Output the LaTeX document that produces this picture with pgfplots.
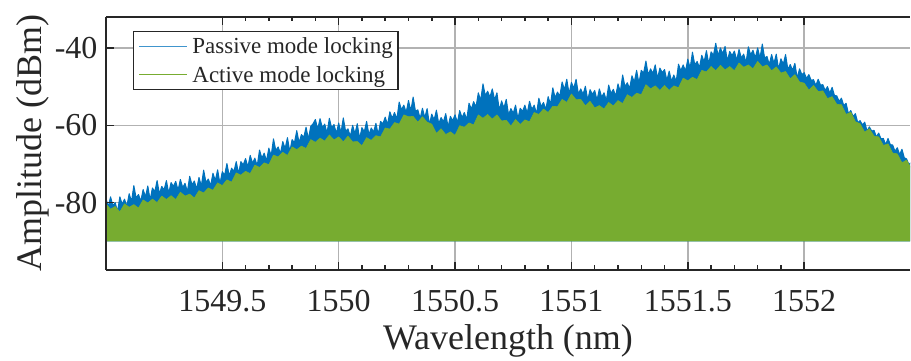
\documentclass[border=0pt]{standalone}
\usepackage{fontspec}
\setmainfont{Liberation Serif}
\usepackage{pgfplots}
\pgfplotsset{compat=1.18}
\definecolor{mblue}{RGB}{0,114,189}
\definecolor{mgreen}{RGB}{119,172,48}
\definecolor{axc}{RGB}{38,38,38}
\pgfplotsset{
  layers/mylayers/.define layer set={axis background,axis grid,main,axis ticks,axis lines,axis tick labels,axis descriptions,axis foreground}{
    grid style={/pgfplots/on layer=axis grid},
    tick style={/pgfplots/on layer=axis ticks},
    axis line style={/pgfplots/on layer=axis lines},
    label style={/pgfplots/on layer=axis descriptions},
    legend style={/pgfplots/on layer=axis descriptions},
    title style={/pgfplots/on layer=axis descriptions},
    colorbar style={/pgfplots/on layer=axis descriptions},
    ticklabel style={/pgfplots/on layer=axis tick labels},
    axis background@ style={/pgfplots/on layer=axis background},
    3d box foreground style={/pgfplots/on layer=axis foreground},
  },
}
\begin{document}
\begin{tikzpicture}
\begin{axis}[
  set layers=mylayers,
  at={(0pt,0pt)}, anchor=south west,
  scale only axis, width=805pt, height=253pt,
  xmin=1549.0, xmax=1552.455, ymin=-97.35, ymax=-32.0,
  axis x line*=box, axis y line*=left,
  axis line style={-, line width=1.8pt, draw=axc},
  xtick={1549.5,1550,1550.5,1551,1551.5,1552},
  xticklabels={1549.5,1550,1550.5,1551,1551.5,1552},
  ytick={-80,-60,-40}, yticklabels={-80,-60,-40},
  minor x tick num=4,
  tick align=inside,
  major tick length=8pt, minor tick length=4.5pt,
  tick style={line width=1.5pt, draw=axc},
  grid=major,
  major grid style={line width=1.5pt, draw=black!30},
  ticklabel style={font=\fontsize{32}{37}\selectfont, text=axc},
  xticklabel style={yshift=-17pt},
  yticklabel style={xshift=-5pt},
  xlabel={Wavelength (nm)}, ylabel={Amplitude (dBm)},
  label style={font=\fontsize{36}{42}\selectfont, text=axc},
  xlabel style={at={(axis description cs:0.5,-0.316)}, anchor=base},
  ylabel style={at={(axis description cs:-0.0795,0.5)}, anchor=base},
  legend cell align=left,
  legend style={at={(axis description cs:0.0335,0.9447)}, anchor=north west,
    draw=axc, line width=1.5pt, fill=white, font=\fontsize{23}{27}\selectfont,
    inner xsep=5pt, inner ysep=6pt, row sep=11pt, nodes={inner sep=0pt, text=axc},
    /tikz/every odd column/.append style={column sep=5pt}},
  legend image code/.code={\draw[#1, line width=0.9pt] (0pt,0pt) -- (48pt,0pt);},
]
\addplot[forget plot, fill=mblue, draw=mblue, line width=1pt, line join=round] coordinates {
(1549.00,-90)
(1549.00,-78.7)(1549.01,-81.2)(1549.02,-78.5)(1549.03,-80.8)(1549.04,-80.0)(1549.05,-82.3)(1549.06,-78.5)(1549.07,-80.4)(1549.08,-79.1)(1549.09,-80.9)
(1549.10,-77.7)(1549.11,-79.7)(1549.12,-75.6)(1549.13,-78.8)(1549.14,-77.9)(1549.15,-79.6)(1549.16,-76.6)(1549.17,-78.5)(1549.18,-75.7)(1549.19,-79.3)
(1549.20,-76.2)(1549.21,-77.2)(1549.22,-74.3)(1549.23,-77.7)(1549.24,-75.8)(1549.25,-76.7)(1549.26,-74.3)(1549.27,-77.6)(1549.28,-74.8)(1549.29,-75.8)
(1549.30,-74.5)(1549.31,-76.8)(1549.32,-74.0)(1549.33,-76.1)(1549.34,-75.0)(1549.35,-77.2)(1549.36,-73.2)(1549.37,-75.4)(1549.38,-74.4)(1549.39,-76.5)
(1549.40,-73.5)(1549.41,-75.7)(1549.42,-71.6)(1549.43,-74.8)(1549.44,-73.9)(1549.45,-75.6)(1549.46,-72.4)(1549.47,-74.3)(1549.48,-71.5)(1549.49,-75.1)
(1549.50,-72.0)(1549.51,-72.9)(1549.52,-69.9)(1549.53,-73.1)(1549.54,-71.1)(1549.55,-71.9)(1549.56,-69.4)(1549.57,-72.5)(1549.58,-69.4)(1549.59,-70.2)
(1549.60,-68.6)(1549.61,-70.8)(1549.62,-67.8)(1549.63,-69.8)(1549.64,-68.5)(1549.65,-70.5)(1549.66,-66.4)(1549.67,-68.5)(1549.68,-67.2)(1549.69,-69.2)
(1549.70,-65.9)(1549.71,-67.9)(1549.72,-63.5)(1549.73,-66.5)(1549.74,-65.6)(1549.75,-67.3)(1549.76,-64.2)(1549.77,-66.0)(1549.78,-63.2)(1549.79,-66.8)
(1549.80,-63.7)(1549.81,-64.5)(1549.82,-61.4)(1549.83,-64.5)(1549.84,-62.4)(1549.85,-63.1)(1549.86,-60.5)(1549.87,-63.5)(1549.88,-60.3)(1549.89,-59.6)
(1549.90,-58.5)(1549.91,-61.0)(1549.92,-58.3)(1549.93,-60.6)(1549.94,-59.7)(1549.95,-62.0)(1549.96,-58.2)(1549.97,-60.7)(1549.98,-59.8)(1549.99,-62.1)
(1550.00,-59.4)(1550.01,-61.9)(1550.02,-58.1)(1550.03,-61.6)(1550.04,-60.9)(1550.05,-62.9)(1550.06,-60.0)(1550.07,-62.2)(1550.08,-59.6)(1550.09,-63.5)
(1550.10,-60.6)(1550.11,-61.7)(1550.12,-59.0)(1550.13,-62.4)(1550.14,-60.7)(1550.15,-61.7)(1550.16,-59.5)(1550.17,-62.4)(1550.18,-59.0)(1550.19,-59.6)
(1550.20,-57.9)(1550.21,-59.8)(1550.22,-56.5)(1550.23,-58.2)(1550.24,-56.7)(1550.25,-58.4)(1550.26,-54.0)(1550.27,-56.0)(1550.28,-54.8)(1550.29,-56.7)
(1550.30,-53.6)(1550.31,-56.3)(1550.32,-52.7)(1550.33,-56.4)(1550.34,-56.0)(1550.35,-58.2)(1550.36,-55.6)(1550.37,-58.0)(1550.38,-55.7)(1550.39,-59.8)
(1550.40,-57.1)(1550.41,-58.6)(1550.42,-56.1)(1550.43,-59.6)(1550.44,-58.0)(1550.45,-59.1)(1550.46,-57.0)(1550.47,-60.4)(1550.48,-57.7)(1550.49,-58.8)
(1550.50,-57.3)(1550.51,-59.3)(1550.52,-56.2)(1550.53,-58.0)(1550.54,-56.7)(1550.55,-58.5)(1550.56,-54.3)(1550.57,-55.8)(1550.58,-53.9)(1550.59,-55.3)
(1550.60,-51.6)(1550.61,-53.6)(1550.62,-49.3)(1550.63,-52.3)(1550.64,-51.2)(1550.65,-52.7)(1550.66,-50.6)(1550.67,-53.4)(1550.68,-51.6)(1550.69,-56.1)
(1550.70,-53.7)(1550.71,-55.5)(1550.72,-53.3)(1550.73,-57.3)(1550.74,-55.7)(1550.75,-56.9)(1550.76,-54.8)(1550.77,-58.3)(1550.78,-55.6)(1550.79,-56.4)
(1550.80,-54.8)(1550.81,-56.9)(1550.82,-53.8)(1550.83,-55.9)(1550.84,-54.8)(1550.85,-57.0)(1550.86,-53.0)(1550.87,-55.2)(1550.88,-54.1)(1550.89,-55.9)
(1550.90,-52.6)(1550.91,-54.6)(1550.92,-50.3)(1550.93,-52.9)(1550.94,-51.4)(1550.95,-52.5)(1550.96,-48.8)(1550.97,-50.8)(1550.98,-48.1)(1550.99,-51.9)
(1551.00,-48.9)(1551.01,-50.4)(1551.02,-48.1)(1551.03,-51.9)(1551.04,-50.6)(1551.05,-52.0)(1551.06,-49.9)(1551.07,-53.5)(1551.08,-50.8)(1551.09,-52.0)
(1551.10,-51.0)(1551.11,-53.5)(1551.12,-50.6)(1551.13,-52.7)(1551.14,-51.6)(1551.15,-53.6)(1551.16,-49.6)(1551.17,-51.8)(1551.18,-50.7)(1551.19,-52.5)
(1551.20,-49.3)(1551.21,-51.3)(1551.22,-47.0)(1551.23,-50.0)(1551.24,-49.0)(1551.25,-50.5)(1551.26,-47.2)(1551.27,-48.8)(1551.28,-45.8)(1551.29,-49.1)
(1551.30,-45.8)(1551.31,-46.5)(1551.32,-43.4)(1551.33,-47.0)(1551.34,-45.4)(1551.35,-46.6)(1551.36,-44.4)(1551.37,-47.9)(1551.38,-45.2)(1551.39,-46.4)
(1551.40,-45.6)(1551.41,-48.4)(1551.42,-46.0)(1551.43,-48.6)(1551.44,-47.0)(1551.45,-48.7)(1551.46,-44.2)(1551.47,-45.9)(1551.48,-44.4)(1551.49,-46.0)
(1551.50,-42.9)(1551.51,-45.2)(1551.52,-41.1)(1551.53,-44.4)(1551.54,-43.5)(1551.55,-45.1)(1551.56,-41.9)(1551.57,-43.6)(1551.58,-40.7)(1551.59,-44.2)
(1551.60,-41.0)(1551.61,-41.9)(1551.62,-38.8)(1551.63,-42.0)(1551.64,-40.0)(1551.65,-41.5)(1551.66,-39.6)(1551.67,-43.4)(1551.68,-40.9)(1551.69,-42.0)
(1551.70,-40.8)(1551.71,-43.2)(1551.72,-40.4)(1551.73,-42.6)(1551.74,-41.6)(1551.75,-43.8)(1551.76,-39.7)(1551.77,-41.8)(1551.78,-40.6)(1551.79,-42.6)
(1551.80,-40.0)(1551.81,-42.6)(1551.82,-39.0)(1551.83,-42.6)(1551.84,-42.2)(1551.85,-44.3)(1551.86,-41.7)(1551.87,-44.0)(1551.88,-41.6)(1551.89,-45.5)
(1551.90,-42.8)(1551.91,-44.2)(1551.92,-41.7)(1551.93,-45.6)(1551.94,-44.3)(1551.95,-45.8)(1551.96,-44.0)(1551.97,-47.8)(1551.98,-45.4)(1551.99,-46.9)
(1552.00,-46.4)(1552.01,-47.9)(1552.02,-46.9)(1552.03,-48.4)(1552.04,-48.2)(1552.05,-49.7)(1552.06,-48.1)(1552.07,-49.6)(1552.08,-49.5)(1552.09,-51.0)
(1552.10,-50.0)(1552.11,-51.7)(1552.12,-50.2)(1552.13,-52.3)(1552.14,-52.4)(1552.15,-53.8)(1552.16,-53.0)(1552.17,-54.9)(1552.18,-54.3)(1552.19,-57.0)
(1552.20,-56.2)(1552.21,-57.7)(1552.22,-57.0)(1552.23,-59.3)(1552.24,-58.8)(1552.25,-59.9)(1552.26,-59.2)(1552.27,-61.5)(1552.28,-60.4)(1552.29,-61.5)
(1552.30,-61.3)(1552.31,-63.0)(1552.32,-62.0)(1552.33,-63.5)(1552.34,-63.4)(1552.35,-65.0)(1552.36,-63.4)(1552.37,-65.0)(1552.38,-65.1)(1552.39,-66.7)
(1552.40,-65.8)(1552.41,-67.6)(1552.42,-66.2)(1552.43,-68.4)(1552.44,-68.7)(1552.45,-70.2)(1552.46,-69.4)
(1552.46,-90)
};
\addplot[forget plot, fill=mgreen, draw=mgreen, line width=0.6pt, line join=round] coordinates {
(1549.00,-90)
(1549.00,-80.3)(1549.02,-81.7)(1549.04,-81.0)(1549.06,-82.4)(1549.08,-80.3)(1549.10,-81.2)(1549.12,-80.5)(1549.14,-81.4)(1549.16,-79.3)(1549.18,-80.1)
(1549.20,-79.1)(1549.22,-80.0)(1549.24,-78.3)(1549.26,-79.2)(1549.28,-78.2)(1549.30,-79.2)(1549.32,-77.3)(1549.34,-78.3)(1549.36,-77.8)(1549.38,-78.8)
(1549.40,-76.9)(1549.42,-77.5)(1549.44,-76.2)(1549.46,-76.8)(1549.48,-74.9)(1549.50,-75.6)(1549.52,-74.1)(1549.54,-74.7)(1549.56,-72.3)(1549.58,-72.9)
(1549.60,-71.9)(1549.62,-72.5)(1549.64,-70.3)(1549.66,-70.9)(1549.68,-69.7)(1549.70,-70.2)(1549.72,-67.7)(1549.74,-68.2)(1549.76,-67.0)(1549.78,-67.8)
(1549.80,-65.6)(1549.82,-66.3)(1549.84,-65.4)(1549.86,-66.0)(1549.88,-63.7)(1549.90,-64.4)(1549.92,-63.3)(1549.94,-64.1)(1549.96,-62.5)(1549.98,-63.8)
(1550.00,-63.0)(1550.02,-64.3)(1550.04,-62.8)(1550.06,-64.3)(1550.08,-64.2)(1550.10,-65.3)(1550.12,-63.2)(1550.14,-63.9)(1550.16,-62.7)(1550.18,-63.0)
(1550.20,-60.7)(1550.22,-61.0)(1550.24,-59.3)(1550.26,-59.7)(1550.28,-57.3)(1550.30,-57.8)(1550.32,-57.7)(1550.34,-59.2)(1550.36,-57.8)(1550.38,-59.2)
(1550.40,-59.7)(1550.42,-62.1)(1550.44,-60.9)(1550.46,-62.4)(1550.48,-61.7)(1550.50,-62.6)(1550.52,-60.1)(1550.54,-60.5)(1550.56,-59.4)(1550.58,-59.9)
(1550.60,-57.3)(1550.62,-58.2)(1550.64,-57.2)(1550.66,-58.4)(1550.68,-57.3)(1550.70,-58.9)(1550.72,-58.7)(1550.74,-60.2)(1550.76,-58.5)(1550.78,-59.8)
(1550.80,-58.6)(1550.82,-59.1)(1550.84,-56.7)(1550.86,-57.2)(1550.88,-55.8)(1550.90,-56.7)(1550.92,-55.1)(1550.94,-55.2)(1550.96,-53.3)(1550.98,-54.1)
(1551.00,-51.9)(1551.02,-53.4)(1551.04,-53.3)(1551.06,-55.0)(1551.08,-53.8)(1551.10,-55.5)(1551.12,-54.9)(1551.14,-55.8)(1551.16,-54.1)(1551.18,-55.0)
(1551.20,-53.6)(1551.22,-54.4)(1551.24,-52.1)(1551.26,-52.8)(1551.28,-51.7)(1551.30,-52.1)(1551.32,-49.5)(1551.34,-50.6)(1551.36,-49.8)(1551.38,-51.0)
(1551.40,-49.7)(1551.42,-51.0)(1551.44,-49.8)(1551.46,-50.3)(1551.48,-47.8)(1551.50,-48.5)(1551.52,-47.6)(1551.54,-48.2)(1551.56,-45.8)(1551.58,-46.2)
(1551.60,-44.8)(1551.62,-45.9)(1551.64,-44.5)(1551.66,-45.7)(1551.68,-44.8)(1551.70,-45.9)(1551.72,-43.9)(1551.74,-45.0)(1551.76,-44.4)(1551.78,-45.4)
(1551.80,-43.5)(1551.82,-44.9)(1551.84,-44.4)(1551.86,-45.9)(1551.88,-44.9)(1551.90,-46.5)(1551.92,-46.1)(1551.94,-48.0)(1551.96,-46.9)(1551.98,-48.8)
(1552.00,-49.1)(1552.02,-50.9)(1552.04,-49.7)(1552.06,-51.3)(1552.08,-51.1)(1552.10,-53.1)(1552.12,-52.6)(1552.14,-54.6)(1552.16,-54.7)(1552.18,-57.2)
(1552.20,-56.6)(1552.22,-59.1)(1552.24,-59.6)(1552.26,-61.8)(1552.28,-60.9)(1552.30,-62.8)(1552.32,-63.0)(1552.34,-65.2)(1552.36,-64.8)(1552.38,-67.2)
(1552.40,-67.4)(1552.42,-69.7)(1552.44,-69.0)(1552.46,-71.2)
(1552.46,-90)
};
\addlegendimage{draw=mblue!75}
\addlegendentry{Passive mode locking}
\addlegendimage{draw=mgreen}
\addlegendentry{Active mode locking}
\end{axis}
\path[use as bounding box] (-106pt,-88pt) rectangle (805pt,270pt);
\end{tikzpicture}
\end{document}
